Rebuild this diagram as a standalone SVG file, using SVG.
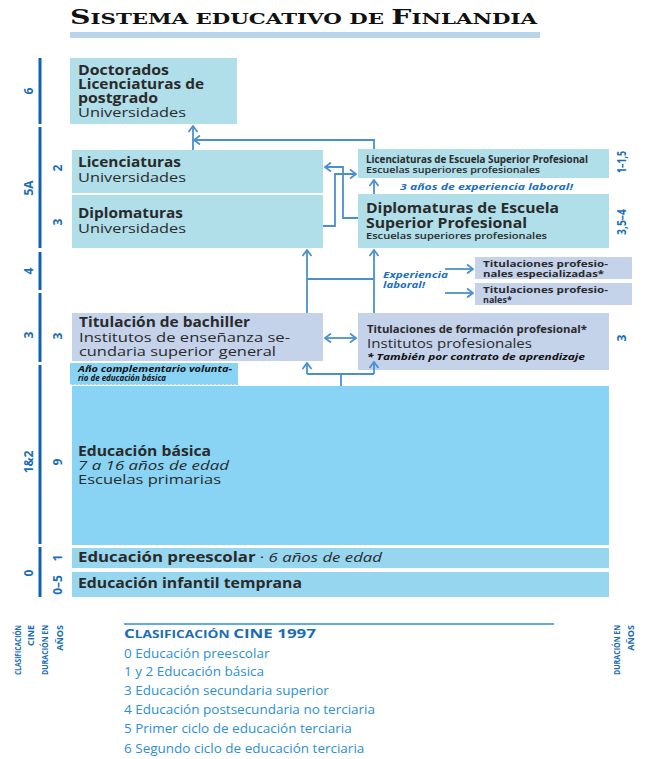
<svg xmlns="http://www.w3.org/2000/svg" width="647" height="759" viewBox="0 0 647 759">
<defs>
<style>
text{font-family:"Open Sans","Liberation Sans",sans-serif;fill:#2a2a2a}
.b{font-weight:bold}
.n{font-size:13.5px}
.ax{font-weight:bold;font-size:12px;fill:#1a6db4;text-anchor:middle}
.cap{font-weight:bold;font-size:9px;fill:#1a6db4;text-anchor:end}
.exp{font-weight:bold;font-style:italic;fill:#1c6fc0}
.leg{font-size:13.5px;fill:#2d8fd5}
.head{font-weight:bold;fill:#1a6db4}
.dk{fill:#111}
.teal{fill:#b0dee9}
.lav{fill:#c4d2ea}
.sky{fill:#89d4f4}
.pre{fill:#97d6ef}
.axl{stroke:#0f62ae;stroke-width:3}
.con{fill:none;stroke:#4a90d0;stroke-width:1.8}
</style>
<marker id="ah" viewBox="0 0 10 10" refX="9" refY="5" markerWidth="10" markerHeight="10" markerUnits="userSpaceOnUse" orient="auto-start-reverse">
<path d="M3,0.5 L9,5 L3,9.5" fill="none" stroke="#4a90d0" stroke-width="1.8"/>
</marker>
</defs>

<g id="title">
<text x="70" y="24" textLength="467" lengthAdjust="spacingAndGlyphs" style="font-family:'DejaVu Serif','Liberation Serif',serif;font-weight:bold;fill:#111"><tspan font-size="20">S</tspan><tspan font-size="15">ISTEMA EDUCATIVO DE </tspan><tspan font-size="20">F</tspan><tspan font-size="15">INLANDIA</tspan></text>
<rect x="70" y="32" width="470" height="6" fill="#b9d5ec"/>
</g>

<g id="axis">
<line class="axl" x1="40" y1="58" x2="40" y2="124"/>
<line class="axl" x1="40" y1="127" x2="40" y2="248"/>
<line class="axl" x1="40" y1="252" x2="40" y2="290"/>
<line class="axl" x1="40" y1="293" x2="40" y2="362"/>
<line class="axl" x1="40" y1="365" x2="40" y2="544"/>
<line class="axl" x1="40" y1="547" x2="40" y2="597"/>
<text class="ax" transform="translate(33,91) rotate(-90)">6</text>
<text class="ax" transform="translate(33,188) rotate(-90)">5A</text>
<text class="ax" transform="translate(33,271) rotate(-90)">4</text>
<text class="ax" transform="translate(33,335) rotate(-90)">3</text>
<text class="ax" transform="translate(33,462) rotate(-90)">1&amp;2</text>
<text class="ax" transform="translate(33,573) rotate(-90)">0</text>
<text class="ax" transform="translate(62,168) rotate(-90)">2</text>
<text class="ax" transform="translate(62,222) rotate(-90)">3</text>
<text class="ax" transform="translate(62,336) rotate(-90)">3</text>
<text class="ax" transform="translate(62,462) rotate(-90)">9</text>
<text class="ax" transform="translate(62,558) rotate(-90)">1</text>
<text class="ax" transform="translate(62,585) rotate(-90)">0–5</text>
<text class="ax" transform="translate(626,162) rotate(-90)" textLength="22" lengthAdjust="spacingAndGlyphs">1–1,5</text>
<text class="ax" transform="translate(626,222) rotate(-90)" textLength="26" lengthAdjust="spacingAndGlyphs">3,5–4</text>
<text class="ax" transform="translate(626,338) rotate(-90)">3</text>
</g>

<g id="doctorados">
<rect class="teal" x="70" y="58" width="167" height="66"/>
<text class="b" x="78" y="75" font-size="13.5" textLength="91" lengthAdjust="spacingAndGlyphs">Doctorados</text>
<text class="b" x="78" y="89" font-size="13.5" textLength="126" lengthAdjust="spacingAndGlyphs">Licenciaturas de</text>
<text class="b" x="78" y="103" font-size="13.5" textLength="80" lengthAdjust="spacingAndGlyphs">postgrado</text>
<text class="n" x="78" y="117" textLength="108" lengthAdjust="spacingAndGlyphs">Universidades</text>
</g>

<g id="licenciaturas">
<rect class="teal" x="72" y="150" width="251" height="43"/>
<text class="b" x="78" y="167" font-size="14" textLength="103" lengthAdjust="spacingAndGlyphs">Licenciaturas</text>
<text class="n" x="78" y="182" textLength="108" lengthAdjust="spacingAndGlyphs">Universidades</text>
</g>

<g id="diplomaturas">
<rect class="teal" x="72" y="195" width="251" height="53"/>
<text class="b" x="78" y="218" font-size="14" textLength="105" lengthAdjust="spacingAndGlyphs">Diplomaturas</text>
<text class="n" x="78" y="233" textLength="108" lengthAdjust="spacingAndGlyphs">Universidades</text>
</g>

<g id="lic-esp">
<rect class="teal" x="358" y="149" width="251" height="29"/>
<text class="b" x="366" y="163" font-size="10" textLength="222" lengthAdjust="spacingAndGlyphs">Licenciaturas de Escuela Superior Profesional</text>
<text x="366" y="173" font-size="9" font-weight="600" textLength="174" lengthAdjust="spacingAndGlyphs">Escuelas superiores profesionales</text>
</g>

<g id="exp3">
<text class="exp" x="400" y="190" font-size="9.5" textLength="173" lengthAdjust="spacingAndGlyphs">3 años de experiencia laboral!</text>
</g>

<g id="dipl-esp">
<rect class="teal" x="358" y="194" width="251" height="54"/>
<text class="b" x="366" y="213" font-size="13.5" textLength="193" lengthAdjust="spacingAndGlyphs">Diplomaturas de Escuela</text>
<text class="b" x="366" y="228" font-size="13.5" textLength="161" lengthAdjust="spacingAndGlyphs">Superior Profesional</text>
<text x="366" y="239" font-size="9" font-weight="600" textLength="181" lengthAdjust="spacingAndGlyphs">Escuelas superiores profesionales</text>
</g>

<g id="explab">
<text class="exp" x="383" y="278" font-size="9" textLength="65" lengthAdjust="spacingAndGlyphs">Experiencia</text>
<text class="exp" x="383" y="288" font-size="9" textLength="42" lengthAdjust="spacingAndGlyphs">laboral!</text>
</g>

<g id="tit-esp">
<rect class="lav" x="475" y="257" width="157" height="22"/>
<text class="b" x="483" y="267" font-size="9" textLength="125" lengthAdjust="spacingAndGlyphs">Titulaciones profesio-</text>
<text class="b" x="483" y="277" font-size="9" textLength="121" lengthAdjust="spacingAndGlyphs">nales especializadas*</text>
</g>

<g id="tit-prof">
<rect class="lav" x="475" y="283" width="157" height="22"/>
<text class="b" x="483" y="293" font-size="9" textLength="125" lengthAdjust="spacingAndGlyphs">Titulaciones profesio-</text>
<text class="b" x="483" y="303" font-size="9">nales*</text>
</g>

<g id="bachiller">
<rect class="lav" x="72" y="313" width="251" height="48"/>
<text class="b" x="79" y="327" font-size="13.5" textLength="171" lengthAdjust="spacingAndGlyphs">Titulación de bachiller</text>
<text class="n" x="79" y="342" textLength="211" lengthAdjust="spacingAndGlyphs">Institutos de enseñanza se-</text>
<text class="n" x="79" y="356" textLength="197" lengthAdjust="spacingAndGlyphs">cundaria superior general</text>
</g>

<g id="formacion">
<rect class="lav" x="358" y="313" width="251" height="57"/>
<text class="b" x="367" y="333" font-size="10.5" textLength="220" lengthAdjust="spacingAndGlyphs">Titulaciones de formación profesional*</text>
<text class="n" x="367" y="348" font-size="12.5" textLength="165" lengthAdjust="spacingAndGlyphs">Institutos profesionales</text>
<text class="dk" x="367" y="360" font-size="9" font-weight="bold" font-style="italic" textLength="218" lengthAdjust="spacingAndGlyphs">* También por contrato de aprendizaje</text>
</g>

<g id="complementario">
<rect class="sky" x="70" y="363" width="168" height="22"/>
<text class="dk" x="78" y="372" font-size="8" font-weight="bold" font-style="italic" textLength="154" lengthAdjust="spacingAndGlyphs">Año complementario volunta-</text>
<text class="dk" x="78" y="381" font-size="8" font-weight="bold" font-style="italic" textLength="88" lengthAdjust="spacingAndGlyphs">rio de educación básica</text>
<line x1="70" y1="385" x2="238" y2="385" stroke="#ffffff" stroke-width="1" stroke-dasharray="2,2"/>
</g>

<g id="basica">
<rect class="sky" x="72" y="386" width="537" height="159"/>
<text class="b" x="78" y="456" font-size="13.5" textLength="133" lengthAdjust="spacingAndGlyphs">Educación básica</text>
<text class="n" x="78" y="470" font-style="italic" textLength="151" lengthAdjust="spacingAndGlyphs">7 a 16 años de edad</text>
<text class="n" x="78" y="484" textLength="143" lengthAdjust="spacingAndGlyphs">Escuelas primarias</text>
</g>

<g id="preescolar">
<rect class="pre" x="72" y="548" width="537" height="20"/>
<text x="78" y="562" font-size="13.5" textLength="304" lengthAdjust="spacingAndGlyphs"><tspan font-weight="bold">Educación preescolar</tspan> · <tspan font-style="italic">6 años de edad</tspan></text>
</g>

<g id="infantil">
<rect class="pre" x="72" y="572" width="537" height="25"/>
<text class="b" x="78" y="588" font-size="13.5" textLength="224" lengthAdjust="spacingAndGlyphs">Educación infantil temprana</text>
</g>

<g id="connectors">
<path class="con" d="M193,150 V126" marker-end="url(#ah)"/>
<path class="con" d="M374,149 V140 H194" marker-end="url(#ah)"/>
<path class="con" d="M358,218 H343 V167 H325" marker-end="url(#ah)"/>
<path class="con" d="M323,226 H335 V174 H356" marker-end="url(#ah)"/>
<path class="con" d="M374,194 V180" marker-end="url(#ah)"/>
<path class="con" d="M307,313 V250" marker-end="url(#ah)"/>
<path class="con" d="M374,313 V250" marker-end="url(#ah)"/>
<path class="con" d="M307,279 H374"/>
<path class="con" d="M445,269 H473" marker-end="url(#ah)"/>
<path class="con" d="M445,293 H473" marker-end="url(#ah)"/>
<path class="con" d="M325,338 H356" marker-start="url(#ah)" marker-end="url(#ah)"/>
<path class="con" d="M341,386 V374"/>
<path class="con" d="M307,374 H374"/>
<path class="con" d="M307,374 V363" marker-end="url(#ah)"/>
<path class="con" d="M374,374 V362" marker-end="url(#ah)"/>
</g>

<g id="legend">
<line x1="124" y1="624" x2="554" y2="624" stroke="#2d8fd5" stroke-width="1.5"/>
<text class="head" x="124" y="638" textLength="192" lengthAdjust="spacingAndGlyphs"><tspan font-size="13">C</tspan><tspan font-size="10.5">LASIFICACIÓN </tspan><tspan font-size="13">CINE 1997</tspan></text>
<text class="leg" x="124" y="658">0 Educación preescolar</text>
<text class="leg" x="124" y="676">1 y 2 Educación básica</text>
<text class="leg" x="124" y="695">3 Educación secundaria superior</text>
<text class="leg" x="124" y="714">4 Educación postsecundaria no terciaria</text>
<text class="leg" x="124" y="733">5 Primer ciclo de educación terciaria</text>
<text class="leg" x="124" y="753">6 Segundo ciclo de educación terciaria</text>
<text class="cap" transform="translate(21,625) rotate(-90)" textLength="50" lengthAdjust="spacingAndGlyphs">CLASIFICACIÓN</text>
<text class="cap" transform="translate(34,625) rotate(-90)">CINE</text>
<text class="cap" transform="translate(48,625) rotate(-90)" textLength="50" lengthAdjust="spacingAndGlyphs">DURACIÓN EN</text>
<text class="cap" transform="translate(63,625) rotate(-90)">AÑOS</text>
<text class="cap" transform="translate(620,625) rotate(-90)" textLength="50" lengthAdjust="spacingAndGlyphs">DURACIÓN EN</text>
<text class="cap" transform="translate(634,625) rotate(-90)">AÑOS</text>
</g>
</svg>
